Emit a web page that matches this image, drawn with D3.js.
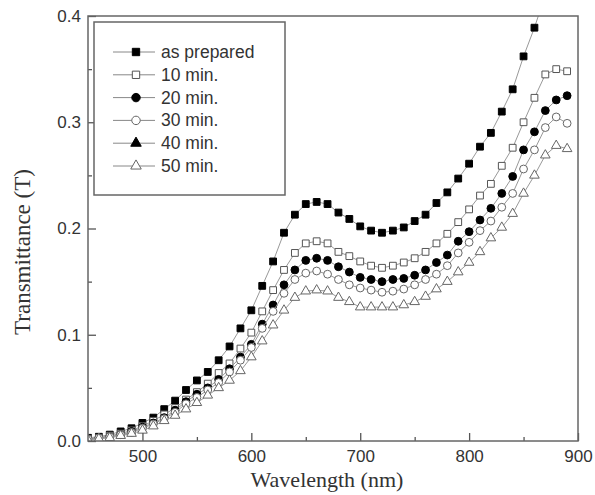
<!DOCTYPE html>
<html>
<head>
<meta charset="utf-8">
<script src="https://cdn.jsdelivr.net/npm/d3@7"></script>
<style>
  body { margin: 0; background: #fff; }
  svg { display: block; }
</style>
</head>
<body>
<div id="chart"></div>
<script>
// wavelengths, every 10 nm
const wavelengths = d3.range(450, 900, 10);

// transmittance
const asPrepared = [0.003, 0.004, 0.006, 0.009, 0.012, 0.017, 0.022, 0.030, 0.038, 0.048,
  0.057, 0.065, 0.076, 0.089, 0.106, 0.123, 0.146, 0.169, 0.196, 0.213,
  0.223, 0.225, 0.223, 0.215, 0.209, 0.202, 0.198, 0.196, 0.198, 0.201,
  0.207, 0.213, 0.224, 0.234, 0.247, 0.261, 0.277, 0.290, 0.310, 0.331,
  0.362, 0.389, 0.420];
const min10 = [0.002, 0.003, 0.005, 0.007, 0.010, 0.014, 0.019, 0.025, 0.031, 0.039,
  0.046, 0.054, 0.064, 0.073, 0.087, 0.102, 0.122, 0.142, 0.161, 0.177,
  0.186, 0.188, 0.186, 0.178, 0.174, 0.169, 0.165, 0.163, 0.165, 0.168,
  0.172, 0.178, 0.186, 0.195, 0.206, 0.218, 0.231, 0.242, 0.259, 0.276,
  0.300, 0.323, 0.345, 0.350, 0.348];
const min20 = [0.002, 0.003, 0.004, 0.006, 0.009, 0.013, 0.017, 0.022, 0.029, 0.037,
  0.044, 0.050, 0.058, 0.068, 0.079, 0.091, 0.110, 0.128, 0.147, 0.161,
  0.170, 0.172, 0.170, 0.164, 0.159, 0.154, 0.152, 0.150, 0.152, 0.153,
  0.156, 0.161, 0.168, 0.175, 0.188, 0.197, 0.208, 0.219, 0.233, 0.249,
  0.274, 0.291, 0.311, 0.321, 0.325];
const min30 = [0.002, 0.003, 0.004, 0.006, 0.008, 0.012, 0.016, 0.021, 0.027, 0.035,
  0.041, 0.048, 0.055, 0.065, 0.076, 0.088, 0.106, 0.122, 0.139, 0.152,
  0.158, 0.160, 0.157, 0.152, 0.147, 0.144, 0.142, 0.140, 0.141, 0.143,
  0.147, 0.152, 0.157, 0.165, 0.177, 0.187, 0.198, 0.207, 0.220, 0.233,
  0.256, 0.274, 0.295, 0.305, 0.299];
const min40 = []; // in the legend only, no points visible
const min50 = [0.001, 0.002, 0.003, 0.005, 0.007, 0.010, 0.014, 0.019, 0.024, 0.030,
  0.036, 0.043, 0.050, 0.057, 0.066, 0.079, 0.094, 0.109, 0.123, 0.135,
  0.141, 0.142, 0.141, 0.135, 0.131, 0.126, 0.126, 0.126, 0.126, 0.128,
  0.131, 0.136, 0.143, 0.150, 0.159, 0.168, 0.178, 0.191, 0.201, 0.214,
  0.233, 0.250, 0.269, 0.278, 0.275];

const seriesNames = ["as prepared", "10 min.", "20 min.", "30 min.", "40 min.", "50 min."];
const seriesValues = [asPrepared, min10, min20, min30, min40, min50];

const xTicks = [500, 600, 700, 800, 900];
const xMinor = [550, 650, 750, 850];
const yTicks = [0.0, 0.1, 0.2, 0.3, 0.4];
const yMinor = [0.05, 0.15, 0.25, 0.35];

// marker look per series
const markers = [
  { type: d3.symbolSquare, size: 46, fill: "#000", stroke: "#000" },
  { type: d3.symbolSquare, size: 46, fill: "#fff", stroke: "#555" },
  { type: d3.symbolCircle, size: 48, fill: "#000", stroke: "#000" },
  { type: d3.symbolCircle, size: 48, fill: "#fff", stroke: "#666" },
  { type: d3.symbolTriangle, size: 40, fill: "#000", stroke: "#000" },
  { type: d3.symbolTriangle, size: 40, fill: "#fff", stroke: "#666" }
];

const width = 595, height = 495;
const plotL = 88, plotR = 578, plotT = 16, plotB = 441;

const svg = d3.select("#chart").append("svg")
  .attr("width", width)
  .attr("height", height);

const x = d3.scaleLinear().domain([450, 900]).range([plotL, plotR]);
const y = d3.scaleLinear().domain([0, 0.4]).range([plotB, plotT]);

svg.append("clipPath").attr("id", "plot-clip")
  .append("rect")
  .attr("x", plotL).attr("y", plotT)
  .attr("width", plotR - plotL).attr("height", plotB - plotT);

const plot = svg.append("g").attr("clip-path", "url(#plot-clip)");

const line = d3.line()
  .x((d, i) => x(wavelengths[i]))
  .y(d => y(d));

seriesValues.forEach((vals, s) => {
  if (!vals.length) return;
  plot.append("path")
    .datum(vals)
    .attr("d", line)
    .attr("fill", "none")
    .attr("stroke", "#999")
    .attr("stroke-width", 1);

  const m = markers[s];
  plot.selectAll(".m" + s)
    .data(vals)
    .enter().append("path")
    .attr("class", "m" + s)
    .attr("transform", (d, i) => `translate(${x(wavelengths[i])},${y(d)})`)
    .attr("d", d3.symbol().type(m.type).size(m.size))
    .attr("fill", m.fill)
    .attr("stroke", m.stroke)
    .attr("stroke-width", 1);
});

// axes, ticks pointing inward
const tickFont = "'Liberation Sans', Arial, sans-serif";

const xAxis = svg.append("g")
  .attr("transform", `translate(0,${plotB})`)
  .call(d3.axisBottom(x).tickValues(xTicks).tickFormat(d3.format("d")).tickSize(-8).tickPadding(9));
const xAxisMinor = svg.append("g")
  .attr("transform", `translate(0,${plotB})`)
  .call(d3.axisBottom(x).tickValues(xMinor).tickFormat("").tickSize(-4));

const yAxis = svg.append("g")
  .attr("transform", `translate(${plotL},0)`)
  .call(d3.axisLeft(y).tickValues(yTicks).tickFormat(d3.format(".1f")).tickSize(-8).tickPadding(7));
const yAxisMinor = svg.append("g")
  .attr("transform", `translate(${plotL},0)`)
  .call(d3.axisLeft(y).tickValues(yMinor).tickFormat("").tickSize(-4));

[xAxis, xAxisMinor, yAxis, yAxisMinor].forEach(g => {
  g.select(".domain").remove();
  g.selectAll("line").attr("stroke", "#555").attr("stroke-width", 1.3);
  g.selectAll("text")
    .attr("fill", "#333")
    .style("font-family", tickFont)
    .style("font-size", "17px");
});

// frame
svg.append("rect")
  .attr("x", plotL).attr("y", plotT)
  .attr("width", plotR - plotL).attr("height", plotB - plotT)
  .attr("fill", "none")
  .attr("stroke", "#666")
  .attr("stroke-width", 1.5);

// axis titles
svg.append("text")
  .attr("x", (plotL + plotR) / 2 - 6)
  .attr("y", 487)
  .attr("text-anchor", "middle")
  .attr("fill", "#333")
  .style("font-family", "'Liberation Serif', 'Times New Roman', serif")
  .style("font-size", "22px")
  .text("Wavelength (nm)");

svg.append("text")
  .attr("transform", "translate(30,252) rotate(-90)")
  .attr("text-anchor", "middle")
  .attr("fill", "#333")
  .style("font-family", "'Liberation Serif', 'Times New Roman', serif")
  .style("font-size", "23px")
  .text("Transmittance (T)");

// legend
const legend = svg.append("g");
legend.append("rect")
  .attr("x", 94).attr("y", 22)
  .attr("width", 191).attr("height", 173)
  .attr("fill", "#fff")
  .attr("stroke", "#666")
  .attr("stroke-width", 1.5);

seriesNames.forEach((name, s) => {
  const cy = 52 + s * 22.8;
  const m = markers[s];
  legend.append("line")
    .attr("x1", 113).attr("x2", 155)
    .attr("y1", cy).attr("y2", cy)
    .attr("stroke", "#888").attr("stroke-width", 1);
  legend.append("path")
    .attr("transform", `translate(136,${cy})`)
    .attr("d", d3.symbol().type(m.type).size(m.size + 8))
    .attr("fill", m.fill)
    .attr("stroke", m.stroke)
    .attr("stroke-width", 1);
  legend.append("text")
    .attr("x", 161)
    .attr("y", cy + 6)
    .attr("fill", "#333")
    .style("font-family", tickFont)
    .style("font-size", "17.5px")
    .text(name);
});
</script>
</body>
</html>
